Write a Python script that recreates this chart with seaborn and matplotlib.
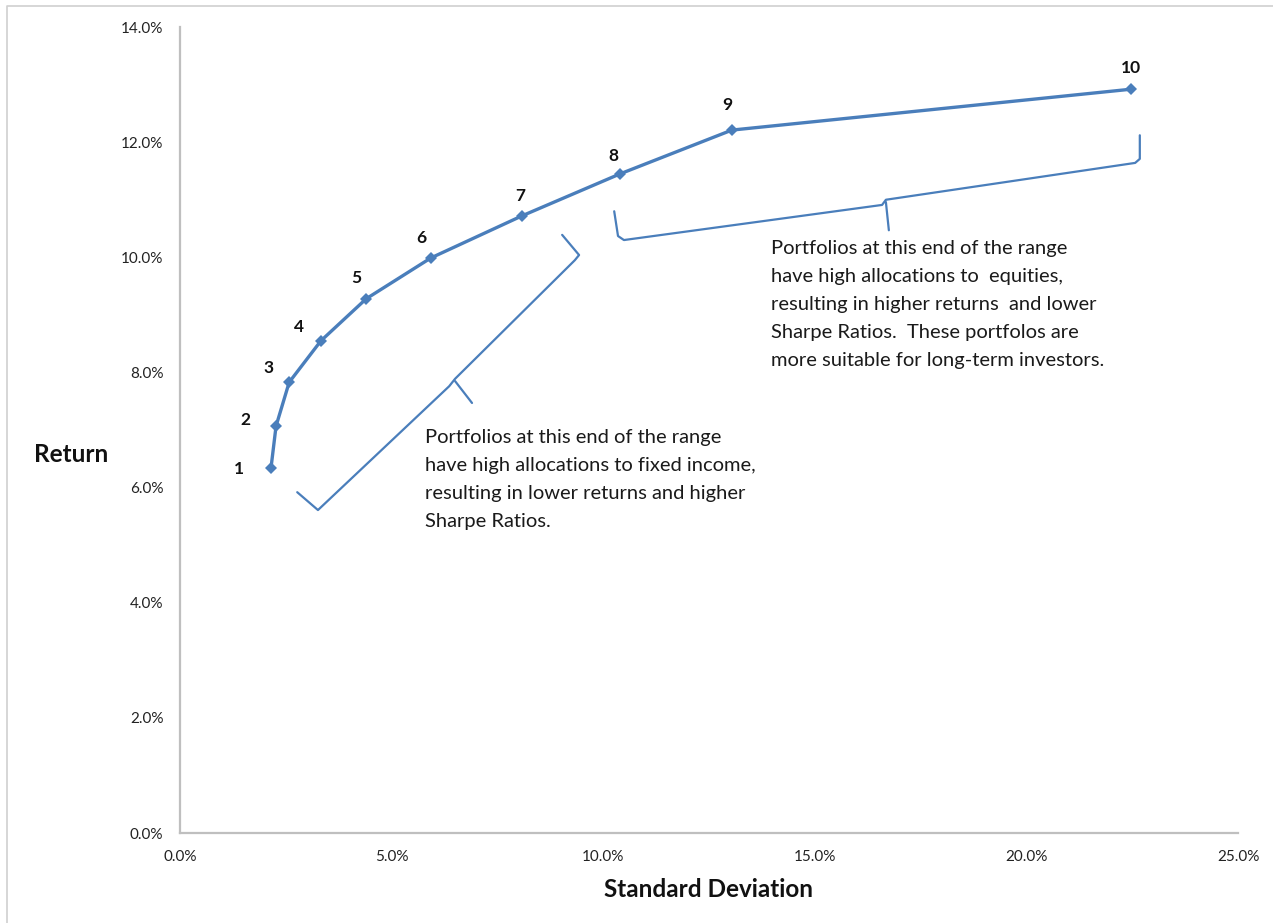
import matplotlib
matplotlib.use("Agg")
import matplotlib.pyplot as plt
import matplotlib.lines as mlines
import seaborn as sns
import pandas as pd
from matplotlib.ticker import PercentFormatter

# Efficient-frontier portfolios: risk (std dev, %) and expected return (%)
portfolio_ids = ["1", "2", "3", "4", "5", "6", "7", "8", "9", "10"]
std_dev = [2.15, 2.27, 2.58, 3.33, 4.40, 5.93, 8.08, 10.40, 13.04, 22.47]
returns = [6.34, 7.07, 7.83, 8.55, 9.28, 9.99, 10.72, 11.45, 12.21, 12.92]

x_ticks = [0, 5, 10, 15, 20, 25]
y_ticks = [0, 2, 4, 6, 8, 10, 12, 14]

note_fixed_income = ("Portfolios at this end of the range\n"
                     "have high allocations to fixed income,\n"
                     "resulting in lower returns and higher\n"
                     "Sharpe Ratios.")
note_equities = ("Portfolios at this end of the range\n"
                 "have high allocations to  equities,\n"
                 "resulting in higher returns  and lower\n"
                 "Sharpe Ratios.  These portfolos are\n"
                 "more suitable for long-term investors.")

df = pd.DataFrame({"id": portfolio_ids, "std": std_dev, "ret": returns})

sns.set_theme(style="white")
plt.rcParams["font.family"] = ["Lato", "DejaVu Sans"]

BLUE = "#4a7ebb"
GREY = "#bfbfbf"

fig = plt.figure(figsize=(12.73, 9.23), dpi=100)
ax = fig.add_axes([0.1414, 0.0975, 0.8311, 0.8732])

sns.lineplot(data=df, x="std", y="ret", sort=False, ax=ax, color=BLUE,
             linewidth=2.4, marker="D", markersize=6, markeredgewidth=0,
             markerfacecolor=BLUE)

ax.set_xlim(0, 25)
ax.set_ylim(0, 14)
ax.set_xticks(x_ticks)
ax.set_yticks(y_ticks)
ax.xaxis.set_major_formatter(PercentFormatter(decimals=1))
ax.yaxis.set_major_formatter(PercentFormatter(decimals=1))
ax.tick_params(axis="both", length=0, labelsize=11, colors="#222222")
ax.tick_params(axis="y", pad=12)
ax.tick_params(axis="x", pad=12)

for side in ["top", "right"]:
    ax.spines[side].set_visible(False)
for side in ["left", "bottom"]:
    ax.spines[side].set_color(GREY)
    ax.spines[side].set_linewidth(1.6)

ax.set_xlabel("Standard Deviation", fontsize=17.5, fontweight="bold",
              color="#111111", labelpad=10)
ax.set_ylabel("Return", fontsize=17.5, fontweight="bold", color="#111111",
              rotation=0, labelpad=0)
ax.yaxis.set_label_coords(-0.103, 0.455)

# point labels (offsets in points)
label_offsets = [(-23, -1), (-22, 4), (-15, 10), (-16, 10), (-7, 15),
                 (-7, 14), (-1, 14), (-5, 13), (-3, 18), (0, 15)]
for pid, xs, ys, off in zip(df["id"], df["std"], df["ret"], label_offsets):
    ax.annotate(pid, (xs, ys), xytext=off, textcoords="offset points",
                ha="center", va="center", fontsize=12.5, fontweight="bold",
                color="#111111")

# curly brackets grouping the two ends of the frontier
brace_kw = dict(color=BLUE, linewidth=1.6, clip_on=False,
                solid_capstyle="round", solid_joinstyle="round")
lower_brace = [(2.77, 5.92), (3.26, 5.61), (6.36, 7.76), (6.50, 7.89),
               (9.33, 9.95), (9.43, 10.04), (9.03, 10.39)]
lower_tip = [(6.50, 7.85), (6.90, 7.47)]
upper_brace = [(10.26, 10.80), (10.35, 10.37), (10.49, 10.30),
               (16.59, 10.91), (16.68, 11.00), (22.57, 11.64),
               (22.68, 11.71), (22.68, 12.12)]
upper_tip = [(16.68, 10.96), (16.75, 10.47)]
for pts in (lower_brace, lower_tip, upper_brace, upper_tip):
    ax.plot([p[0] for p in pts], [p[1] for p in pts], **brace_kw)

ax.text(5.80, 7.02, note_fixed_income, fontsize=14.5, color="#1a1a1a",
        ha="left", va="top", linespacing=1.79)
ax.text(13.97, 10.30, note_equities, fontsize=14.5, color="#1a1a1a",
        ha="left", va="top", linespacing=1.79)

# chart-area frame (top and left edges)
fig.add_artist(mlines.Line2D([7 / 1273, 7 / 1273, 1.0],
                             [0.0, 1 - 6 / 923, 1 - 6 / 923],
                             transform=fig.transFigure, color="#d0d0d0",
                             linewidth=1.2))

fig.savefig("out.png", dpi=100, facecolor="white")
